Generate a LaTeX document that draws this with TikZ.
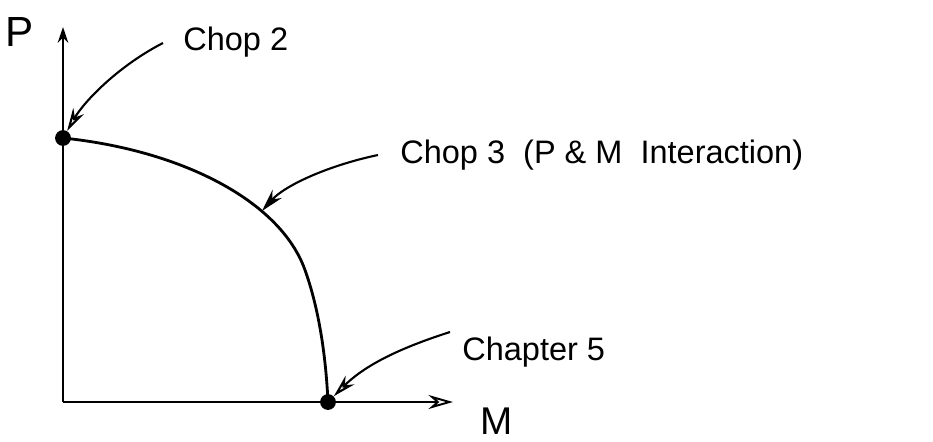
\documentclass[tikz,border=0pt]{standalone}
\usepackage{fontspec}
\setmainfont{Liberation Sans}
\usetikzlibrary{positioning, arrows.meta}

\begin{document}
\begin{tikzpicture}[x=0.02cm,y=-0.02cm,>=Stealth,
  axis/.style={line width=1.1pt,-{Stealth[length=9pt,width=6pt]}},
  dot/.style={circle,fill,inner sep=0pt,minimum size=9pt},
  pointer/.style={line width=1.2pt,-{Stealth[open,length=13pt,width=7pt]}},
  label/.style={font=\fontsize{18.5}{21}\selectfont,inner sep=0pt}]
  \useasboundingbox (0,0) rectangle (933,441);
  \coordinate (O) at (63,402);
  \coordinate (Ptop) at (63,27);
  \coordinate (Mtop) at (453,402);
  \draw[axis] (O) -- (Ptop);
  \draw[axis,-{Stealth[open,length=14pt,width=8pt]}] (O) -- (Mtop);
  \node[label,font=\fontsize{24}{26}\selectfont] (P) at (20,32) {P};
  \node[label,font=\fontsize{22}{24}\selectfont] (M) at (497,421) {M};

  % interaction curve
  \node[dot] (pure P) at (63,138) {};
  \node[dot] (pure M) at (328,402) {};
  \draw[line width=1.6pt] (pure P.center) .. controls (180,150) and (280,200) .. (305,270)
    .. controls (320,312) and (326,360) .. (pure M.center);
  \coordinate (mid) at (262,211);

  % chapter labels
  \node[label,anchor=west] (ch2) at (183,42) {Chop 2};
  \node[label,anchor=west] (ch3) at (400,155) {Chop 3 \ (P \& M \ Interaction)};
  \node[label,anchor=west] (ch5) at (462,352) {Chapter 5};
  \coordinate (s2) at (163,43);
  \coordinate (s3) at (378,155);
  \coordinate (s5) at (450,332);
  \draw[pointer] (s2) .. controls (120,65) and (85,100) .. (pure P);
  \draw[pointer,-{Stealth[length=13pt,width=7pt]}] (s3) .. controls (330,165) and (285,185) .. (mid);
  \draw[pointer] (s5) .. controls (400,348) and (365,365) .. (pure M);
\end{tikzpicture}
\end{document}
